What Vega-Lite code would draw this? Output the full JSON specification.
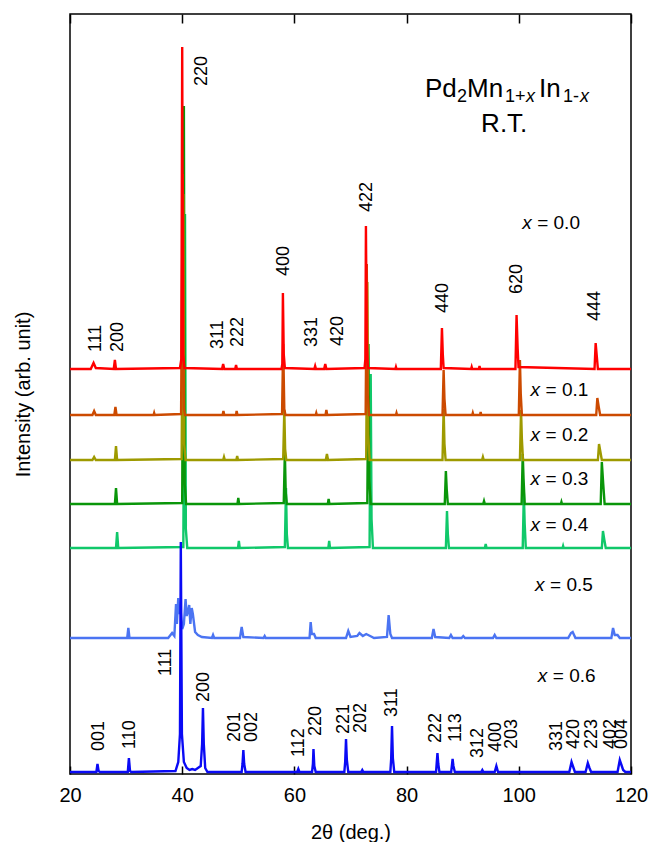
{
  "$schema": "https://vega.github.io/schema/vega-lite/v6.json",
  "width": 561,
  "height": 760,
  "autosize": {"type": "none"},
  "padding": {"left": 70, "top": 14, "right": 17, "bottom": 68},
  "background": "white",
  "config": {
    "font": "Liberation Sans",
    "view": {"stroke": "black", "strokeWidth": 1.5},
    "axis": {"grid": false, "labelColor": "black", "titleColor": "black", "tickColor": "black"}
  },
  "resolve": {"axis": {"x": "independent"}},
  "encoding": {
    "x": {"field": "t", "type": "quantitative", "scale": {"domain": [20, 120], "nice": false, "zero": false}, "axis": null},
    "y": {"field": "v", "type": "quantitative", "scale": {"domain": [0, 760], "nice": false},
          "axis": {"title": "Intensity (arb. unit)", "labels": false, "ticks": false, "domain": false, "titleFontSize": 20, "titleFontWeight": "normal", "titlePadding": 37}}
  },
  "layer": [
    {
      "data": {"values": [
        {"s":"0.5","t":20,"v":136},{"s":"0.5","t":30.2,"v":136},{"s":"0.5","t":30.4,"v":146},{"s":"0.5","t":30.6,"v":136},{"s":"0.5","t":37.5,"v":136},{"s":"0.5","t":38.2,"v":141},{"s":"0.5","t":38.6,"v":138},{"s":"0.5","t":38.9,"v":170},{"s":"0.5","t":39.05,"v":150},{"s":"0.5","t":39.3,"v":176},{"s":"0.5","t":39.5,"v":160},{"s":"0.5","t":39.7,"v":165},{"s":"0.5","t":40.0,"v":145},{"s":"0.5","t":40.3,"v":150},{"s":"0.5","t":40.6,"v":175},{"s":"0.5","t":40.8,"v":158},{"s":"0.5","t":41.0,"v":162},{"s":"0.5","t":41.25,"v":169},{"s":"0.5","t":41.45,"v":150},{"s":"0.5","t":41.7,"v":166},{"s":"0.5","t":41.9,"v":160},{"s":"0.5","t":42.3,"v":142},{"s":"0.5","t":42.8,"v":139},{"s":"0.5","t":43.5,"v":137},{"s":"0.5","t":45.3,"v":136},{"s":"0.5","t":45.5,"v":139},{"s":"0.5","t":45.7,"v":136},{"s":"0.5","t":50.3,"v":136},{"s":"0.5","t":50.6,"v":147},{"s":"0.5","t":50.9,"v":137},{"s":"0.5","t":54.5,"v":136},{"s":"0.5","t":54.7,"v":138},{"s":"0.5","t":54.9,"v":136},{"s":"0.5","t":62.7,"v":136},{"s":"0.5","t":62.9,"v":152},{"s":"0.5","t":63.1,"v":140},{"s":"0.5","t":63.5,"v":140},{"s":"0.5","t":63.8,"v":136},{"s":"0.5","t":69.2,"v":136},{"s":"0.5","t":69.6,"v":143},{"s":"0.5","t":70.0,"v":137},{"s":"0.5","t":71.2,"v":138},{"s":"0.5","t":71.6,"v":141},{"s":"0.5","t":72.2,"v":138},{"s":"0.5","t":72.8,"v":140},{"s":"0.5","t":73.5,"v":138},{"s":"0.5","t":74.2,"v":136},{"s":"0.5","t":76.5,"v":137},{"s":"0.5","t":76.8,"v":159},{"s":"0.5","t":77.1,"v":140},{"s":"0.5","t":77.4,"v":136},{"s":"0.5","t":84.5,"v":136},{"s":"0.5","t":84.8,"v":145},{"s":"0.5","t":85.1,"v":137},{"s":"0.5","t":87.6,"v":136},{"s":"0.5","t":87.9,"v":139},{"s":"0.5","t":88.2,"v":136},{"s":"0.5","t":89.8,"v":136},{"s":"0.5","t":90.1,"v":138},{"s":"0.5","t":90.4,"v":136},{"s":"0.5","t":95.4,"v":136},{"s":"0.5","t":95.7,"v":139},{"s":"0.5","t":96.0,"v":136},{"s":"0.5","t":108.8,"v":136},{"s":"0.5","t":109.3,"v":141},{"s":"0.5","t":109.6,"v":142},{"s":"0.5","t":110.1,"v":136},{"s":"0.5","t":116.5,"v":136},{"s":"0.5","t":116.8,"v":146},{"s":"0.5","t":117.1,"v":139},{"s":"0.5","t":117.6,"v":139},{"s":"0.5","t":118.0,"v":136},{"s":"0.5","t":120,"v":136},

        {"s":"0.4","t":20,"v":226},{"s":"0.4","t":28.2,"v":226},{"s":"0.4","t":28.4,"v":242},{"s":"0.4","t":28.6,"v":226},{"s":"0.4","t":40.2,"v":227},{"s":"0.4","t":40.5,"v":560},{"s":"0.4","t":40.65,"v":245},{"s":"0.4","t":40.9,"v":226},{"s":"0.4","t":49.95,"v":226},{"s":"0.4","t":50.1,"v":233},{"s":"0.4","t":50.25,"v":226},{"s":"0.4","t":58.3,"v":227},{"s":"0.4","t":58.5,"v":286},{"s":"0.4","t":58.65,"v":240},{"s":"0.4","t":58.85,"v":226},{"s":"0.4","t":66.05,"v":226},{"s":"0.4","t":66.2,"v":233},{"s":"0.4","t":66.35,"v":226},{"s":"0.4","t":73.4,"v":227},{"s":"0.4","t":73.6,"v":400},{"s":"0.4","t":73.75,"v":255},{"s":"0.4","t":74.0,"v":226},{"s":"0.4","t":87.0,"v":226},{"s":"0.4","t":87.2,"v":263},{"s":"0.4","t":87.35,"v":240},{"s":"0.4","t":87.55,"v":226},{"s":"0.4","t":93.95,"v":226},{"s":"0.4","t":94.1,"v":230},{"s":"0.4","t":94.25,"v":226},{"s":"0.4","t":100.7,"v":226},{"s":"0.4","t":100.9,"v":281},{"s":"0.4","t":101.05,"v":250},{"s":"0.4","t":101.25,"v":226},{"s":"0.4","t":107.8,"v":226},{"s":"0.4","t":107.9,"v":228},{"s":"0.4","t":108.0,"v":226},{"s":"0.4","t":114.8,"v":226},{"s":"0.4","t":115.0,"v":243},{"s":"0.4","t":115.25,"v":234},{"s":"0.4","t":115.5,"v":226},{"s":"0.4","t":120,"v":226},

        {"s":"0.3","t":20,"v":270},{"s":"0.3","t":28.0,"v":270},{"s":"0.3","t":28.2,"v":286},{"s":"0.3","t":28.4,"v":270},{"s":"0.3","t":40.0,"v":271},{"s":"0.3","t":40.3,"v":668},{"s":"0.3","t":40.45,"v":290},{"s":"0.3","t":40.7,"v":270},{"s":"0.3","t":49.85,"v":270},{"s":"0.3","t":50.0,"v":276},{"s":"0.3","t":50.15,"v":270},{"s":"0.3","t":58.1,"v":271},{"s":"0.3","t":58.3,"v":322},{"s":"0.3","t":58.45,"v":282},{"s":"0.3","t":58.65,"v":270},{"s":"0.3","t":65.95,"v":270},{"s":"0.3","t":66.1,"v":275},{"s":"0.3","t":66.25,"v":270},{"s":"0.3","t":73.0,"v":271},{"s":"0.3","t":73.2,"v":430},{"s":"0.3","t":73.35,"v":295},{"s":"0.3","t":73.6,"v":270},{"s":"0.3","t":86.8,"v":270},{"s":"0.3","t":87.0,"v":303},{"s":"0.3","t":87.15,"v":285},{"s":"0.3","t":87.35,"v":270},{"s":"0.3","t":93.65,"v":270},{"s":"0.3","t":93.8,"v":273},{"s":"0.3","t":93.95,"v":270},{"s":"0.3","t":100.5,"v":270},{"s":"0.3","t":100.7,"v":320},{"s":"0.3","t":100.85,"v":295},{"s":"0.3","t":101.05,"v":270},{"s":"0.3","t":107.5,"v":270},{"s":"0.3","t":107.6,"v":272},{"s":"0.3","t":107.7,"v":270},{"s":"0.3","t":114.6,"v":270},{"s":"0.3","t":114.8,"v":312},{"s":"0.3","t":115.05,"v":290},{"s":"0.3","t":115.3,"v":270},{"s":"0.3","t":120,"v":270},

        {"s":"0.2","t":20,"v":314},{"s":"0.2","t":24.0,"v":314},{"s":"0.2","t":24.3,"v":317},{"s":"0.2","t":24.6,"v":314},{"s":"0.2","t":28.0,"v":314},{"s":"0.2","t":28.2,"v":328},{"s":"0.2","t":28.4,"v":314},{"s":"0.2","t":39.9,"v":315},{"s":"0.2","t":40.2,"v":580},{"s":"0.2","t":40.35,"v":330},{"s":"0.2","t":40.6,"v":314},{"s":"0.2","t":47.3,"v":314},{"s":"0.2","t":47.45,"v":317},{"s":"0.2","t":47.6,"v":314},{"s":"0.2","t":49.65,"v":314},{"s":"0.2","t":49.8,"v":318},{"s":"0.2","t":49.95,"v":314},{"s":"0.2","t":58.0,"v":315},{"s":"0.2","t":58.2,"v":364},{"s":"0.2","t":58.35,"v":325},{"s":"0.2","t":58.55,"v":314},{"s":"0.2","t":65.6,"v":314},{"s":"0.2","t":65.8,"v":320},{"s":"0.2","t":66.0,"v":314},{"s":"0.2","t":72.8,"v":315},{"s":"0.2","t":73.0,"v":492},{"s":"0.2","t":73.15,"v":340},{"s":"0.2","t":73.4,"v":314},{"s":"0.2","t":86.4,"v":314},{"s":"0.2","t":86.6,"v":365},{"s":"0.2","t":86.75,"v":330},{"s":"0.2","t":86.95,"v":314},{"s":"0.2","t":93.45,"v":314},{"s":"0.2","t":93.6,"v":317},{"s":"0.2","t":93.75,"v":314},{"s":"0.2","t":100.2,"v":314},{"s":"0.2","t":100.4,"v":364},{"s":"0.2","t":100.55,"v":335},{"s":"0.2","t":100.75,"v":314},{"s":"0.2","t":114.1,"v":314},{"s":"0.2","t":114.3,"v":330},{"s":"0.2","t":114.55,"v":322},{"s":"0.2","t":114.8,"v":314},{"s":"0.2","t":120,"v":314},

        {"s":"0.1","t":20,"v":359},{"s":"0.1","t":24.0,"v":359},{"s":"0.1","t":24.3,"v":363},{"s":"0.1","t":24.6,"v":359},{"s":"0.1","t":27.9,"v":359},{"s":"0.1","t":28.1,"v":367},{"s":"0.1","t":28.3,"v":359},{"s":"0.1","t":34.9,"v":359},{"s":"0.1","t":35.0,"v":361},{"s":"0.1","t":35.1,"v":359},{"s":"0.1","t":39.8,"v":360},{"s":"0.1","t":40.1,"v":600},{"s":"0.1","t":40.3,"v":365},{"s":"0.1","t":40.5,"v":359},{"s":"0.1","t":47.2,"v":359},{"s":"0.1","t":47.35,"v":363},{"s":"0.1","t":47.5,"v":359},{"s":"0.1","t":49.6,"v":359},{"s":"0.1","t":49.7,"v":363},{"s":"0.1","t":49.85,"v":359},{"s":"0.1","t":57.8,"v":360},{"s":"0.1","t":58.0,"v":430},{"s":"0.1","t":58.2,"v":365},{"s":"0.1","t":58.4,"v":359},{"s":"0.1","t":63.8,"v":359},{"s":"0.1","t":63.9,"v":361},{"s":"0.1","t":64.0,"v":359},{"s":"0.1","t":65.55,"v":359},{"s":"0.1","t":65.7,"v":364},{"s":"0.1","t":65.85,"v":359},{"s":"0.1","t":72.7,"v":360},{"s":"0.1","t":72.9,"v":510},{"s":"0.1","t":73.05,"v":380},{"s":"0.1","t":73.3,"v":359},{"s":"0.1","t":78.1,"v":359},{"s":"0.1","t":78.2,"v":361},{"s":"0.1","t":78.3,"v":359},{"s":"0.1","t":86.4,"v":359},{"s":"0.1","t":86.6,"v":404},{"s":"0.1","t":86.75,"v":375},{"s":"0.1","t":86.95,"v":359},{"s":"0.1","t":91.7,"v":359},{"s":"0.1","t":91.8,"v":361},{"s":"0.1","t":91.9,"v":359},{"s":"0.1","t":93.1,"v":359},{"s":"0.1","t":93.2,"v":362},{"s":"0.1","t":93.3,"v":359},{"s":"0.1","t":100.0,"v":359},{"s":"0.1","t":100.2,"v":414},{"s":"0.1","t":100.35,"v":380},{"s":"0.1","t":100.55,"v":359},{"s":"0.1","t":113.8,"v":359},{"s":"0.1","t":114.0,"v":376},{"s":"0.1","t":114.25,"v":367},{"s":"0.1","t":114.5,"v":359},{"s":"0.1","t":120,"v":359},

        {"s":"0.0","t":20,"v":405},{"s":"0.0","t":23.7,"v":405},{"s":"0.0","t":24.2,"v":411},{"s":"0.0","t":24.6,"v":406},{"s":"0.0","t":27.8,"v":405},{"s":"0.0","t":28.0,"v":414},{"s":"0.0","t":28.2,"v":405},{"s":"0.0","t":39.6,"v":406},{"s":"0.0","t":39.85,"v":415},{"s":"0.0","t":40.0,"v":727},{"s":"0.0","t":40.15,"v":420},{"s":"0.0","t":40.4,"v":406},{"s":"0.0","t":47.1,"v":405},{"s":"0.0","t":47.3,"v":410},{"s":"0.0","t":47.5,"v":405},{"s":"0.0","t":49.45,"v":405},{"s":"0.0","t":49.6,"v":409},{"s":"0.0","t":49.75,"v":405},{"s":"0.0","t":57.7,"v":405},{"s":"0.0","t":57.85,"v":410},{"s":"0.0","t":57.95,"v":481},{"s":"0.0","t":58.1,"v":420},{"s":"0.0","t":58.3,"v":406},{"s":"0.0","t":63.55,"v":405},{"s":"0.0","t":63.7,"v":408},{"s":"0.0","t":63.85,"v":405},{"s":"0.0","t":65.3,"v":405},{"s":"0.0","t":65.5,"v":410},{"s":"0.0","t":65.7,"v":405},{"s":"0.0","t":72.5,"v":406},{"s":"0.0","t":72.65,"v":415},{"s":"0.0","t":72.75,"v":548},{"s":"0.0","t":72.9,"v":430},{"s":"0.0","t":73.1,"v":406},{"s":"0.0","t":78.0,"v":405},{"s":"0.0","t":78.1,"v":407},{"s":"0.0","t":78.2,"v":405},{"s":"0.0","t":86.1,"v":405},{"s":"0.0","t":86.3,"v":446},{"s":"0.0","t":86.45,"v":420},{"s":"0.0","t":86.6,"v":406},{"s":"0.0","t":91.5,"v":405},{"s":"0.0","t":91.6,"v":407},{"s":"0.0","t":91.7,"v":405},{"s":"0.0","t":92.9,"v":405},{"s":"0.0","t":93.0,"v":408},{"s":"0.0","t":93.1,"v":405},{"s":"0.0","t":99.4,"v":405},{"s":"0.0","t":99.6,"v":459},{"s":"0.0","t":99.8,"v":425},{"s":"0.0","t":99.95,"v":407},{"s":"0.0","t":113.5,"v":405},{"s":"0.0","t":113.7,"v":431},{"s":"0.0","t":113.9,"v":418},{"s":"0.0","t":114.1,"v":405},{"s":"0.0","t":120,"v":405},

        {"s":"0.6","t":20,"v":2},{"s":"0.6","t":24.7,"v":2},{"s":"0.6","t":24.9,"v":10},{"s":"0.6","t":25.1,"v":3},{"s":"0.6","t":25.3,"v":2},{"s":"0.6","t":30.3,"v":2},{"s":"0.6","t":30.5,"v":16},{"s":"0.6","t":30.7,"v":3},{"s":"0.6","t":30.9,"v":2},{"s":"0.6","t":38.8,"v":3},{"s":"0.6","t":39.3,"v":12},{"s":"0.6","t":39.6,"v":40},{"s":"0.6","t":39.75,"v":232},{"s":"0.6","t":39.95,"v":40},{"s":"0.6","t":40.3,"v":12},{"s":"0.6","t":40.8,"v":6},{"s":"0.6","t":41.3,"v":4},{"s":"0.6","t":41.8,"v":5},{"s":"0.6","t":42.3,"v":4},{"s":"0.6","t":43.3,"v":8},{"s":"0.6","t":43.55,"v":30},{"s":"0.6","t":43.7,"v":66},{"s":"0.6","t":43.85,"v":30},{"s":"0.6","t":44.1,"v":6},{"s":"0.6","t":44.5,"v":2},{"s":"0.6","t":50.6,"v":2},{"s":"0.6","t":50.75,"v":10},{"s":"0.6","t":50.9,"v":24},{"s":"0.6","t":51.05,"v":10},{"s":"0.6","t":51.3,"v":2},{"s":"0.6","t":60.5,"v":2},{"s":"0.6","t":60.7,"v":5},{"s":"0.6","t":60.9,"v":2},{"s":"0.6","t":63.15,"v":2},{"s":"0.6","t":63.3,"v":10},{"s":"0.6","t":63.4,"v":25},{"s":"0.6","t":63.55,"v":8},{"s":"0.6","t":63.8,"v":2},{"s":"0.6","t":68.9,"v":2},{"s":"0.6","t":69.05,"v":12},{"s":"0.6","t":69.2,"v":35},{"s":"0.6","t":69.35,"v":14},{"s":"0.6","t":69.6,"v":2},{"s":"0.6","t":71.9,"v":2},{"s":"0.6","t":72.1,"v":4},{"s":"0.6","t":72.3,"v":2},{"s":"0.6","t":77.1,"v":2},{"s":"0.6","t":77.25,"v":15},{"s":"0.6","t":77.4,"v":48},{"s":"0.6","t":77.55,"v":16},{"s":"0.6","t":77.8,"v":2},{"s":"0.6","t":85.25,"v":2},{"s":"0.6","t":85.5,"v":21},{"s":"0.6","t":85.65,"v":10},{"s":"0.6","t":85.85,"v":2},{"s":"0.6","t":87.95,"v":2},{"s":"0.6","t":88.2,"v":15},{"s":"0.6","t":88.35,"v":8},{"s":"0.6","t":88.6,"v":2},{"s":"0.6","t":93.3,"v":2},{"s":"0.6","t":93.5,"v":4},{"s":"0.6","t":93.7,"v":2},{"s":"0.6","t":95.7,"v":2},{"s":"0.6","t":96.0,"v":8},{"s":"0.6","t":96.3,"v":2},{"s":"0.6","t":109.0,"v":2},{"s":"0.6","t":109.4,"v":12},{"s":"0.6","t":109.7,"v":7},{"s":"0.6","t":110.0,"v":2},{"s":"0.6","t":111.9,"v":2},{"s":"0.6","t":112.3,"v":11},{"s":"0.6","t":112.6,"v":6},{"s":"0.6","t":112.9,"v":2},{"s":"0.6","t":117.6,"v":2},{"s":"0.6","t":118.0,"v":14},{"s":"0.6","t":118.3,"v":9},{"s":"0.6","t":118.6,"v":4},{"s":"0.6","t":119.0,"v":2},{"s":"0.6","t":120,"v":2}
      ]},
      "mark": {"type": "line", "strokeWidth": 2.4, "clip": true},
      "encoding": {
        "x": {"field": "t", "type": "quantitative", "scale": {"domain": [20, 120], "nice": false, "zero": false},
              "axis": {"orient": "bottom", "title": "2θ (deg.)", "values": [20, 40, 60, 80, 100, 120], "tickSize": -8, "tickWidth": 1.5, "domain": false,
                       "labelFontSize": 20, "labelPadding": 19, "titleFontSize": 20, "titleFontWeight": "normal", "titlePadding": 17, "labelFlush": false}},
        "color": {"field": "s", "type": "nominal", "legend": null,
                  "scale": {"domain": ["0.0", "0.1", "0.2", "0.3", "0.4", "0.5", "0.6"],
                            "range": ["#ff0000", "#cc4a00", "#9e9a00", "#0a960a", "#10c86a", "#4b74f2", "#0a0af5"]}},
        "order": {"field": "t", "type": "quantitative"}
      }
    },
    {
      "data": {"values": [
        {"h":"220","t":43.57,"v":688},{"h":"422","t":72.86,"v":562},{"h":"400","t":58.2,"v":498},{"h":"111","t":24.6,"v":422},{"h":"200","t":28.5,"v":422},{"h":"311","t":46.4,"v":425},{"h":"222","t":50.0,"v":427},{"h":"331","t":63.2,"v":427},{"h":"420","t":67.7,"v":428},{"h":"440","t":86.4,"v":461},{"h":"620","t":99.6,"v":480},{"h":"444","t":113.6,"v":453},
        {"h":"001","t":25.2,"v":23},{"h":"110","t":30.7,"v":25},{"h":"111","t":37.2,"v":98},{"h":"200","t":43.9,"v":72},{"h":"201","t":49.4,"v":32},{"h":"002","t":52.5,"v":32},{"h":"112","t":60.8,"v":17},{"h":"220","t":63.9,"v":38},{"h":"221","t":68.9,"v":40},{"h":"202","t":71.9,"v":41},{"h":"311","t":77.4,"v":57},{"h":"222","t":85.2,"v":31},{"h":"113","t":88.8,"v":32},{"h":"312","t":92.7,"v":16},{"h":"400","t":95.9,"v":22},{"h":"203","t":98.8,"v":25},{"h":"331","t":106.8,"v":23},{"h":"420","t":109.8,"v":25},{"h":"223","t":113.0,"v":25},{"h":"402","t":116.4,"v":25},{"h":"004","t":118.4,"v":25}
      ]},
      "mark": {"type": "text", "angle": 270, "align": "left", "baseline": "middle", "fontSize": 18, "color": "black"},
      "encoding": {
        "x": {"field": "t", "type": "quantitative", "scale": {"domain": [20, 120], "nice": false, "zero": false},
              "axis": {"orient": "top", "title": null, "labels": false, "values": [20, 40, 60, 80, 100, 120], "tickSize": -9, "tickWidth": 1.5, "domain": false}},
        "text": {"field": "h"}
      }
    },
    {
      "data": {"values": [
        {"lab":"= 0.0","t":100.6,"v":545},{"lab":"= 0.1","t":102.1,"v":378},{"lab":"= 0.2","t":102.1,"v":333},{"lab":"= 0.3","t":102.1,"v":289},{"lab":"= 0.4","t":102.1,"v":243},{"lab":"= 0.5","t":102.9,"v":183},{"lab":"= 0.6","t":103.4,"v":92}
      ]},
      "layer": [
        {"mark": {"type": "text", "text": "x", "fontStyle": "italic", "align": "left", "baseline": "alphabetic", "fontSize": 19, "color": "black"}},
        {"mark": {"type": "text", "dx": 15, "align": "left", "baseline": "alphabetic", "fontSize": 19, "color": "black"},
         "encoding": {"text": {"field": "lab"}}}
      ]
    },
    {
      "data": {"values": [{"w":"Pd","t":83.28,"v":677},{"w":"Mn","t":90.77,"v":677},{"w":"In","t":103.6,"v":677}]},
      "mark": {"type": "text", "align": "left", "baseline": "alphabetic", "fontSize": 26, "color": "black"},
      "encoding": {"text": {"field": "w"}}
    },
    {
      "data": {"values": [{"w":"2","t":88.98,"v":672},{"w":"1+","t":97.54,"v":672},{"w":"1-","t":107.88,"v":672}]},
      "mark": {"type": "text", "align": "left", "baseline": "alphabetic", "fontSize": 18, "color": "black"},
      "encoding": {"text": {"field": "w"}}
    },
    {
      "data": {"values": [{"w":"x","t":101.28,"v":672},{"w":"x","t":110.91,"v":672}]},
      "mark": {"type": "text", "align": "left", "baseline": "alphabetic", "fontSize": 18, "fontStyle": "italic", "color": "black"},
      "encoding": {"text": {"field": "w"}}
    },
    {
      "data": {"values": [{"w":"R.T.","t":97.4,"v":642}]},
      "mark": {"type": "text", "align": "center", "baseline": "alphabetic", "fontSize": 26, "color": "black"},
      "encoding": {"text": {"field": "w"}}
    }
  ]
}
